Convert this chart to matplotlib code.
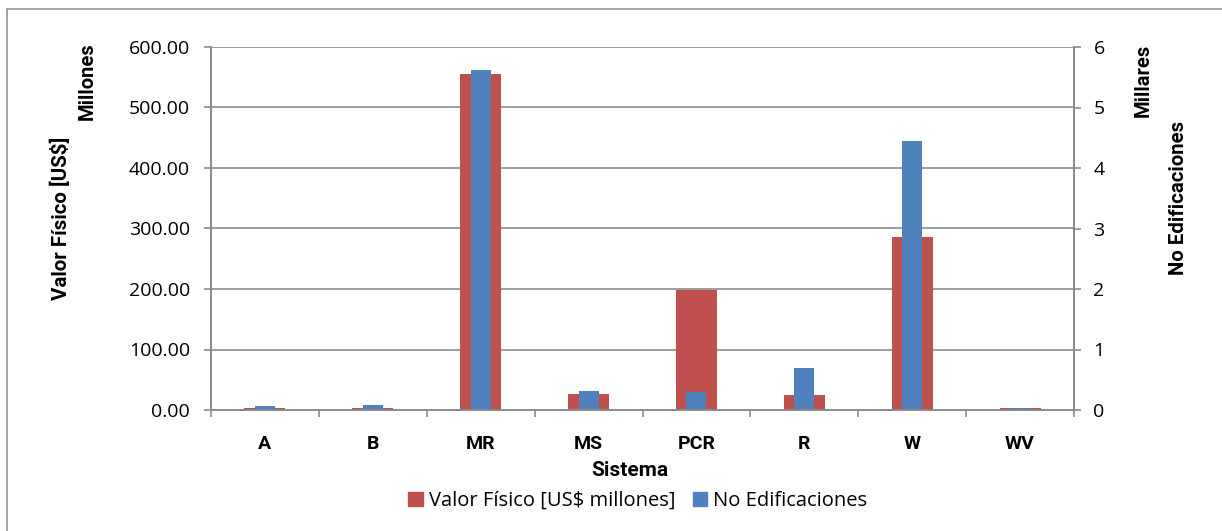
import numpy as np
import matplotlib.pyplot as plt
from matplotlib.patches import Patch, Rectangle

sistemas = ['A', 'B', 'MR', 'MS', 'PCR', 'R', 'W', 'WV']
valor_fisico = [4, 4, 555, 27, 198, 24, 286, 4]        # US$ millones
edificaciones = [70, 90, 5620, 310, 300, 690, 4450, 30]  # numero de edificaciones

ROJO = '#C0504D'
AZUL = '#4F81BD'
GRIS = '#8C8C8C'
NEGRITA = ['Roboto', 'DejaVu Sans']

plt.rcParams['font.family'] = ['Open Sans', 'DejaVu Sans']

W, H = 1222, 531
fig = plt.figure(figsize=(W / 100, H / 100), dpi=100)

def fx(px):
    return px / W

def fy(py):
    return 1 - py / H

# borde del area del grafico
fig.patches.append(Rectangle((fx(7.5), fy(H + 5)), 1.2, fy(8.5) - fy(H + 5),
                             transform=fig.transFigure, fill=False,
                             edgecolor=GRIS, linewidth=1.1))

ax = fig.add_axes([fx(211), fy(410), fx(1074) - fx(211), fy(47) - fy(410)])
ax2 = ax.twinx()

x = np.arange(len(sistemas))
ax.bar(x, valor_fisico, width=0.38, color=ROJO, zorder=2)
ax2.bar(x, np.array(edificaciones) / 1000.0, width=0.185, color=AZUL, zorder=2)

ax.set_xlim(-0.5, len(sistemas) - 0.5)
ax.set_ylim(0, 600)
ax2.set_ylim(0, 6)
ax.set_yticks(np.arange(0, 601, 100))
ax.set_yticklabels(['%.2f' % v for v in np.arange(0, 601, 100)])
ax2.set_yticks(np.arange(0, 7, 1))

ax.set_axisbelow(True)
ax.yaxis.grid(True, color=GRIS, linewidth=1.2)

ax.set_xticks(x)
ax.set_xticklabels(sistemas, fontweight='bold', fontsize=14, family=NEGRITA)
ax.set_xticks(np.arange(-0.5, len(sistemas), 1), minor=True)
ax.tick_params(axis='x', which='major', length=0, pad=18)
ax.tick_params(axis='x', which='minor', length=5, width=1.2, color=GRIS)
ax.tick_params(axis='y', length=5, width=1.2, color=GRIS, labelsize=14, pad=10)
ax2.tick_params(axis='y', length=5, width=1.2, color=GRIS, labelsize=14, pad=9)

for a in (ax, ax2):
    a.spines['top'].set_visible(False)
    for s in ('left', 'right', 'bottom'):
        a.spines[s].set_color(GRIS)
        a.spines[s].set_linewidth(1.4)

fig.text(fx(61), fy(218), 'Valor Físico [US$]', rotation=90, ha='center', va='center',
         fontsize=14.8, fontweight='bold', family=NEGRITA)
fig.text(fx(87), fy(81), 'Millones', rotation=90, ha='center', va='center',
         fontsize=14.5, fontweight='bold', family=NEGRITA)
fig.text(fx(1143), fy(80), 'Millares', rotation=90, ha='center', va='center',
         fontsize=14.5, fontweight='bold', family=NEGRITA)
fig.text(fx(1178), fy(198), 'No Edificaciones', rotation=90, ha='center', va='center',
         fontsize=14.7, fontweight='bold', family=NEGRITA)
fig.text(fx(630), fy(471), 'Sistema', ha='center', va='center',
         fontsize=15, fontweight='bold', family=NEGRITA)

handles = [Patch(color=ROJO, label='Valor Físico [US$ millones]'),
           Patch(color=AZUL, label='No Edificaciones')]
fig.legend(handles=handles, loc='center', bbox_to_anchor=(fx(638), fy(501)), ncol=2,
           frameon=False, fontsize=14.5, handlelength=0.7, handleheight=0.7,
           handletextpad=0.3, columnspacing=0.9)

fig.savefig('out.png', dpi=100)
